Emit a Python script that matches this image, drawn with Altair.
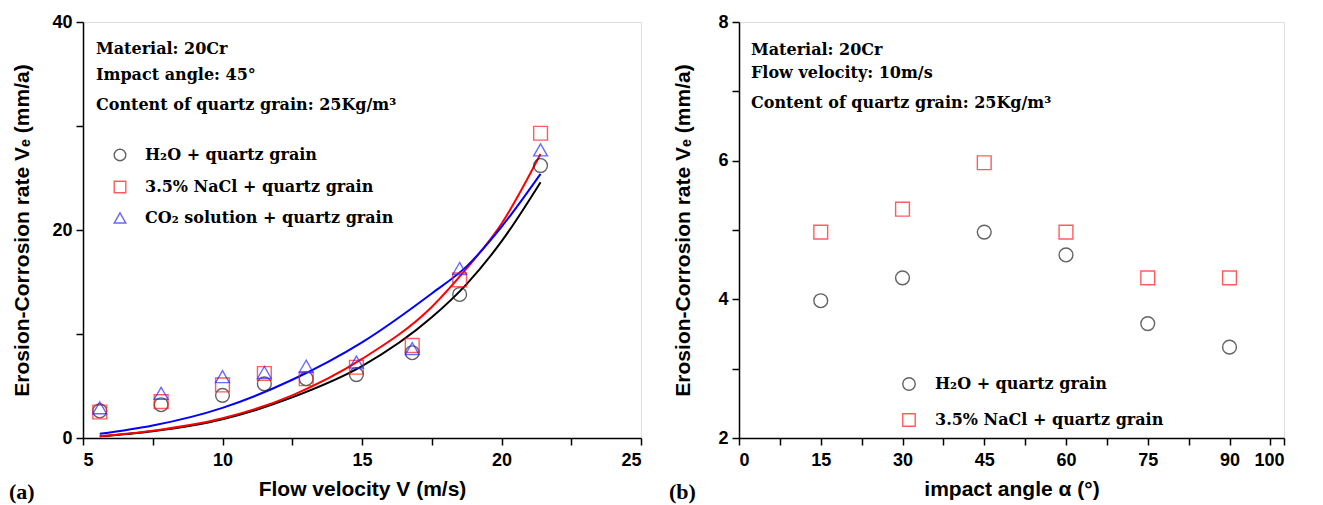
import altair as alt
import pandas as pd

# ---------------- data ----------------
series_a = ["H₂O + quartz grain", "3.5% NaCl + quartz grain", "CO₂ solution + quartz grain"]
velocity = [5.6, 7.8, 10.0, 11.5, 13.0, 14.8, 16.8, 18.5, 21.4]
h2o_a = [2.6, 3.2, 4.1, 5.2, 5.7, 6.1, 8.2, 13.8, 26.2]
nacl_a = [2.5, 3.5, 5.1, 6.2, 5.7, 6.8, 8.9, 15.2, 29.3]
co2_a = [2.9, 4.3, 5.9, 6.3, 6.9, 7.3, 8.6, 16.3, 27.7]

fit_x = [5.6, 7.5, 10.0, 12.5, 15.0, 17.5, 18.75, 20.0, 21.4]
fit_h2o = [0.16, 0.65, 1.8, 3.9, 6.9, 11.6, 14.8, 18.9, 24.6]
fit_nacl = [0.16, 0.7, 1.9, 4.1, 7.6, 12.6, 16.3, 20.6, 27.3]
fit_co2 = [0.4, 1.2, 2.9, 5.6, 9.2, 13.9, 16.5, 20.3, 25.4]

series_b = ["H₂O + quartz grain", "3.5% NaCl + quartz grain"]
angle = [15, 30, 45, 60, 75, 90]
h2o_b = [3.98, 4.31, 4.97, 4.64, 3.65, 3.31]
nacl_b = [4.97, 5.30, 5.97, 4.97, 4.31, 4.31]

x_ticks_a = [5, 7.5, 10, 12.5, 15, 17.5, 20, 22.5, 25]
y_ticks_a = [0, 10, 20, 30, 40]
x_ticks_b = [0, 7.5, 15, 22.5, 30, 37.5, 45, 52.5, 60, 67.5, 75, 82.5, 90, 97.5, 100]
y_ticks_b = [2, 3, 4, 5, 6, 7, 8]

notes_a = ["Material: 20Cr", "Impact angle: 45°", "Content of quartz grain: 25Kg/m³"]
notes_b = ["Material: 20Cr", "Flow velocity: 10m/s", "Content of quartz grain: 25Kg/m³"]

# ---------------- tables ----------------
pts_a = pd.DataFrame(
    [{"v": v, "rate": r, "series": series_a[0]} for v, r in zip(velocity, h2o_a)]
    + [{"v": v, "rate": r, "series": series_a[1]} for v, r in zip(velocity, nacl_a)]
    + [{"v": v, "rate": r, "series": series_a[2]} for v, r in zip(velocity, co2_a)]
)
pts_b = pd.DataFrame(
    [{"a": a, "rate": r, "series2": series_b[0]} for a, r in zip(angle, h2o_b)]
    + [{"a": a, "rate": r, "series2": series_b[1]} for a, r in zip(angle, nacl_b)]
)

SANS = "Liberation Sans"
SERIF = "DejaVu Serif"
W_A, W_B, H = 558, 545, 416
marker_colors = ["#222222", "#ff1a1a", "#2a2aff"]
line_colors = ["#000000", "#ff0000", "#0000ff"]
marker_shapes = ["circle", "square", "triangle-up"]

axis_common = dict(
    grid=False, domainColor="black", domainWidth=1.5, tickColor="black",
    tickWidth=1.5, tickSize=7, labelFont=SANS, labelFontSize=18,
    labelFontWeight="bold", labelColor="black",
    titleFont=SANS, titleFontSize=21, titleFontWeight="bold", titleColor="black",
)

def note_layers(lines, dx, ys, data):
    out = []
    for t, yy in zip(lines, ys):
        out.append(
            alt.Chart(data).mark_text(
                text=t, align="left", baseline="alphabetic", font=SERIF,
                fontSize=16, fontWeight="bold", color="black",
            ).encode(x=alt.value(dx), y=alt.value(yy))
        )
    return out

def legend(lx, ly, size, row_pad, offset):
    return alt.Legend(orient="none", legendX=lx, legendY=ly, title=None,
                      labelFont=SERIF, labelFontSize=16, labelFontWeight="bold",
                      labelColor="black", symbolSize=size, symbolStrokeWidth=1.4,
                      rowPadding=row_pad, labelOffset=offset, padding=0, labelLimit=400)

dummy = pd.DataFrame({"k": [0]})

# ---------------- panel (a) ----------------
xa = alt.X("v:Q", scale=alt.Scale(domain=[5, 25], nice=False),
           axis=alt.Axis(values=x_ticks_a, title="Flow velocity V (m/s)",
                         labelExpr="datum.value % 5 === 0 ? datum.label : ''",
                         labelPadding=6, titlePadding=9, **axis_common))
ya = alt.Y("rate:Q", scale=alt.Scale(domain=[0, 40], nice=False),
           axis=alt.Axis(values=y_ticks_a, title="Erosion-Corrosion rate Vₑ (mm/a)",
                         labelExpr="datum.value % 20 === 0 ? datum.label : ''",
                         labelPadding=4, titlePadding=19, **axis_common))

fit_layers = []
for ys, col in zip([fit_h2o, fit_nacl, fit_co2], line_colors):
    df = pd.DataFrame({"v": fit_x, "rate": ys})
    fit_layers.append(
        alt.Chart(df).mark_line(strokeWidth=2, interpolate="monotone", color=col)
        .encode(x=xa, y=ya)
    )

leg_a = legend(29, 125, 135, 14, 17)
points_a = alt.Chart(pts_a).mark_point(filled=False, size=190, strokeWidth=1.4).encode(
    x="v:Q", y="rate:Q",
    color=alt.Color("series:N", scale=alt.Scale(domain=series_a, range=marker_colors),
                    legend=leg_a),
    shape=alt.Shape("series:N", scale=alt.Scale(domain=series_a, range=marker_shapes),
                    legend=leg_a),
)
tag_a = alt.Chart(dummy).mark_text(text="(a)", align="left", baseline="alphabetic",
                                   font="Liberation Serif", fontSize=22, fontWeight="bold",
                                   color="black").encode(x=alt.value(-74), y=alt.value(477))

panel_a = alt.layer(*fit_layers, points_a, *note_layers(notes_a, 13, [32, 58, 88], dummy),
                    tag_a).properties(width=W_A, height=H)

# ---------------- panel (b) ----------------
xb = alt.X("a:Q", scale=alt.Scale(domain=[0, 100], nice=False),
           axis=alt.Axis(values=x_ticks_b, title="impact angle α (°)",
                         labelExpr="(datum.value % 15 === 0 || datum.value === 100) ? datum.label : ''",
                         labelPadding=6, titlePadding=9, **axis_common))
yb = alt.Y("rate:Q", scale=alt.Scale(domain=[2, 8], nice=False),
           axis=alt.Axis(values=y_ticks_b, title="Erosion-Corrosion rate Vₑ (mm/a)",
                         labelExpr="datum.value % 2 === 0 ? datum.label : ''",
                         labelPadding=4, titlePadding=24, **axis_common))
leg_b = legend(162, 354, 155, 16, 18)
points_b = alt.Chart(pts_b).mark_point(filled=False, size=190, strokeWidth=1.4).encode(
    x=xb, y=yb,
    color=alt.Color("series2:N", scale=alt.Scale(domain=series_b, range=marker_colors[:2]),
                    legend=leg_b),
    shape=alt.Shape("series2:N", scale=alt.Scale(domain=series_b, range=marker_shapes[:2]),
                    legend=leg_b),
)
tag_b = alt.Chart(dummy).mark_text(text="(b)", align="left", baseline="alphabetic",
                                   font="Liberation Serif", fontSize=22, fontWeight="bold",
                                   color="black").encode(x=alt.value(-70), y=alt.value(477))

panel_b = alt.layer(points_b, *note_layers(notes_b, 12, [33, 56, 86], dummy), tag_b
                    ).properties(width=W_B, height=H)

chart = alt.hconcat(panel_a, panel_b, spacing=98, bounds="flush").resolve_scale(
    color="independent", shape="independent"
).properties(
    padding={"top": 4, "left": 0, "right": 0, "bottom": 0}
).configure_view(stroke="black", strokeWidth=1.5).configure(background="white")

chart.save("out.html", embed_options={"renderer": "svg", "actions": False})
